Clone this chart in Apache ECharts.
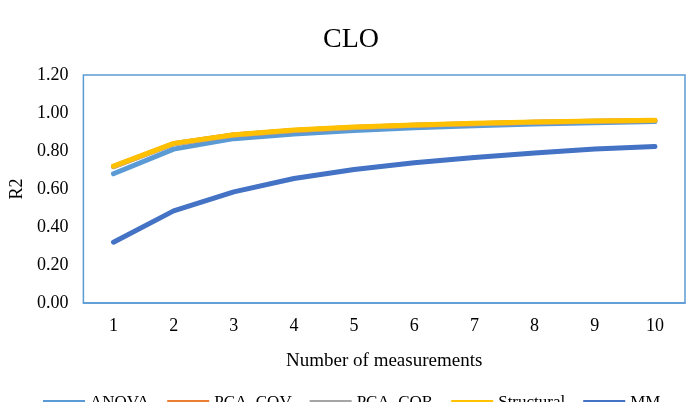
<!DOCTYPE html>
<html>
<head>
<meta charset="utf-8">
<script src="https://cdn.jsdelivr.net/npm/echarts@6/dist/echarts.min.js"></script>
<style>html,body{margin:0;padding:0;background:#fff;}#c{width:686px;height:402px;}</style>
</head>
<body>
<div id="c"></div>
<script>
var categories = ['1','2','3','4','5','6','7','8','9','10'];
var anova      = [0.68, 0.81, 0.865, 0.89, 0.908, 0.922, 0.933, 0.942, 0.949, 0.955];
var pcaCov     = [0.718, 0.838, 0.884, 0.908, 0.924, 0.935, 0.944, 0.951, 0.957, 0.961];
var pcaCor     = [0.718, 0.838, 0.884, 0.908, 0.924, 0.935, 0.944, 0.951, 0.957, 0.961];
var structural = [0.72, 0.84, 0.886, 0.91, 0.926, 0.937, 0.946, 0.953, 0.958, 0.962];
var mm         = [0.32, 0.485, 0.585, 0.655, 0.703, 0.738, 0.766, 0.79, 0.81, 0.824];
var seriesNames = ['ANOVA','PCA_COV','PCA_COR','Structural','MM'];
var seriesData = [anova, pcaCov, pcaCor, structural, mm];
var colors = ['#5B9BD5','#ED7D31','#A5A5A5','#FFC000','#4472C4'];

var font = 'Liberation Serif';
var chart = echarts.init(document.getElementById('c'));
chart.setOption({
  animation: false,
  title: {
    text: 'CLO', left: 318, top: 21,
    textStyle: {fontFamily: font, fontSize: 28, fontWeight: 'normal', color: '#000'}
  },
  legend: {
    data: seriesNames.map(function(n, i){ return {name: n, icon: 'rect'}; }),
    left: 38, top: 389,
    itemWidth: 42, itemHeight: 5, itemGap: 18,
    textStyle: {fontFamily: font, fontSize: 17, color: '#000'}
  },
  grid: {
    left: 81, right: 1, top: 75, bottom: 99,
    show: true, borderColor: '#5B9BD5', borderWidth: 1.5, backgroundColor: 'transparent'
  },
  xAxis: {
    type: 'category', data: categories, boundaryGap: true,
    name: 'Number of measurements', nameLocation: 'middle', nameGap: 49,
    nameTextStyle: {fontFamily: font, fontSize: 19, color: '#000'},
    axisLine: {show: true, lineStyle: {color: '#5B9BD5', width: 1.5}},
    axisTick: {show: false},
    axisLabel: {fontFamily: font, fontSize: 18, color: '#000', margin: 14}
  },
  yAxis: {
    type: 'value', min: 0, max: 1.2, interval: 0.2,
    name: 'R2', nameLocation: 'middle', nameGap: 57,
    nameTextStyle: {fontFamily: font, fontSize: 18, color: '#000'},
    axisLine: {show: false}, axisTick: {show: false},
    splitLine: {show: false},
    axisLabel: {fontFamily: font, fontSize: 18, color: '#000', margin: 15,
      formatter: function(v){ return v.toFixed(2); }}
  },
  series: seriesNames.map(function(n, i){
    return {
      name: n, type: 'line', data: seriesData[i], symbol: 'none',
      lineStyle: {color: colors[i], width: 5, cap: 'round', join: 'round'},
      itemStyle: {color: colors[i]}
    };
  })
});
</script>
</body>
</html>
